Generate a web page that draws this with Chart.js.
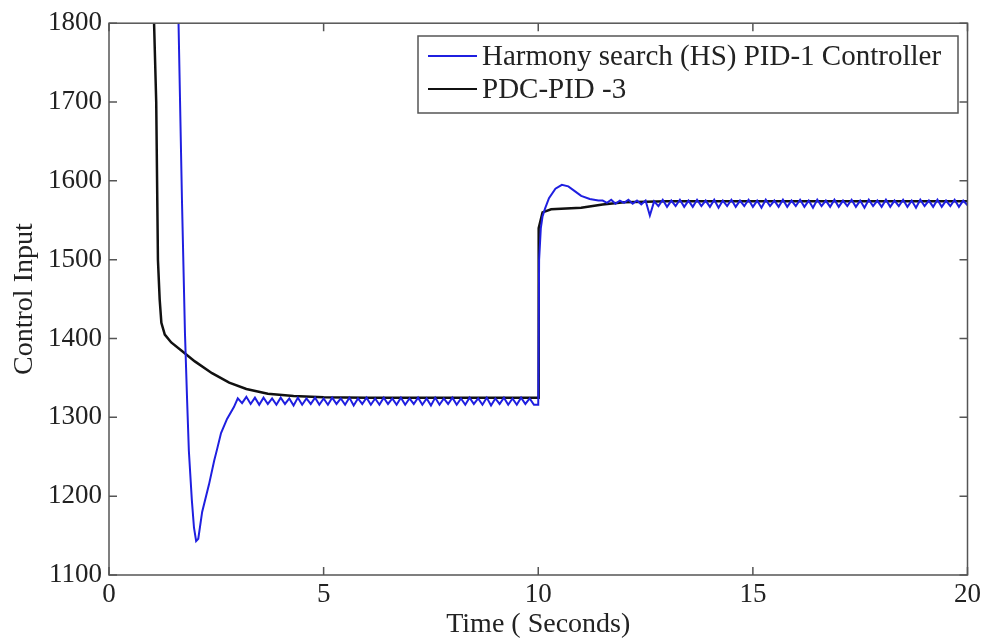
<!DOCTYPE html>
<html>
<head>
<meta charset="utf-8">
<script src="https://cdn.jsdelivr.net/npm/chart.js@4/dist/chart.umd.min.js"></script>
<style>
  html, body { margin: 0; padding: 0; background: #fff; }
</style>
</head>
<body>
<canvas id="control-chart" width="985" height="641"></canvas>
<script>
// Harmony search (HS) PID-1 : transient part
const hsTime = [0, 1.5, 1.62, 1.7, 1.77, 1.82, 1.86, 1.93, 1.98, 2.03, 2.08, 2.17, 2.33, 2.45, 2.52, 2.61, 2.75, 2.91];
const hsValue = [2800, 2050, 1800, 1575, 1406, 1321, 1258, 1195, 1160, 1143, 1146, 1180, 1215, 1245, 1260, 1280, 1298, 1313];

// ripple between 3.0 s and 10.0 s, one sample every 0.1 s
const hsRippleLowStart = 3.0;
const hsRippleLow = [
  1324, 1318, 1326, 1317, 1325, 1316, 1325, 1317, 1324, 1316,
  1325, 1317, 1324, 1315, 1325, 1316, 1324, 1317, 1325, 1316,
  1324, 1316, 1325, 1317, 1324, 1316, 1325, 1315, 1324, 1317,
  1325, 1316, 1324, 1316, 1325, 1317, 1324, 1316, 1325, 1316,
  1324, 1317, 1325, 1316, 1324, 1315, 1325, 1316, 1324, 1317,
  1325, 1316, 1324, 1316, 1325, 1317, 1324, 1316, 1325, 1315,
  1324, 1317, 1325, 1316, 1324, 1316, 1325, 1317, 1324, 1316, 1316
];

// step at 10 s
const hsStepTime = [10.02, 10.06, 10.1, 10.16, 10.25, 10.4, 10.55, 10.7, 10.85, 11.0, 11.2, 11.4];
const hsStepValue = [1500, 1540, 1555, 1565, 1578, 1590, 1595, 1593, 1587, 1581, 1577, 1575];

// ripple between 11.5 s and 20.0 s
const hsRippleHighStart = 11.5;
const hsRippleHigh = [
  1575, 1572, 1576, 1571, 1575, 1572, 1576, 1571, 1575, 1570,
  1575, 1556, 1574, 1568, 1576, 1567, 1575, 1568, 1576, 1567,
  1575, 1567, 1576, 1568, 1575, 1567, 1576, 1566, 1575, 1568,
  1576, 1567, 1575, 1568, 1576, 1567, 1575, 1566, 1576, 1568,
  1575, 1567, 1576, 1567, 1575, 1568, 1576, 1567, 1575, 1566,
  1576, 1568, 1575, 1567, 1576, 1567, 1575, 1568, 1576, 1567,
  1575, 1566, 1576, 1568, 1575, 1567, 1576, 1567, 1575, 1568,
  1576, 1567, 1575, 1566, 1576, 1568, 1575, 1567, 1576, 1567,
  1575, 1568, 1576, 1567, 1575, 1569
];
const rippleStep = 0.1;

// PDC-PID -3
const pdcTime = [0, 0.9, 1.05, 1.1, 1.14, 1.18, 1.22, 1.3, 1.45, 1.75, 2.0, 2.4, 2.8, 3.2, 3.7, 4.3, 5.0, 6.0, 10.0, 10.01, 10.1, 10.3, 11.0, 11.5, 12.0, 13.0, 20.0];
const pdcValue = [2900, 2000, 1800, 1700, 1500, 1450, 1420, 1405, 1395, 1382, 1371, 1356, 1344, 1336, 1330, 1327, 1325.5, 1325, 1325, 1540, 1560, 1564, 1566, 1570, 1573, 1574, 1574];

const xTicks = [0, 5, 10, 15, 20];
const yTicks = [1100, 1200, 1300, 1400, 1500, 1600, 1700, 1800];

const seriesLabels = ["Harmony search (HS) PID-1 Controller", "PDC-PID -3"];

function toPoints(times, values) {
  return values.map((v, i) => ({ x: times[i], y: v }));
}
function rippleToPoints(start, values) {
  return values.map((v, i) => ({ x: +(start + i * rippleStep).toFixed(2), y: v }));
}

const hsPoints = toPoints(hsTime, hsValue)
  .concat(rippleToPoints(hsRippleLowStart, hsRippleLow))
  .concat(toPoints(hsStepTime, hsStepValue))
  .concat(rippleToPoints(hsRippleHighStart, hsRippleHigh));
const pdcPoints = toPoints(pdcTime, pdcValue);

const serif = "'Liberation Serif', 'Times New Roman', serif";
const axisColor = "#555";

// box around the axes with inward ticks, Matlab style
const axesBox = {
  id: "axesBox",
  afterDatasetsDraw(chart) {
    const { ctx, chartArea: a, scales } = chart;
    const len = 8;
    ctx.save();
    ctx.strokeStyle = axisColor;
    ctx.lineWidth = 1.5;
    ctx.strokeRect(a.left, a.top, a.right - a.left, a.bottom - a.top);
    ctx.beginPath();
    xTicks.forEach((t) => {
      const px = scales.x.getPixelForValue(t);
      ctx.moveTo(px, a.bottom); ctx.lineTo(px, a.bottom - len);
      ctx.moveTo(px, a.top); ctx.lineTo(px, a.top + len);
    });
    yTicks.forEach((t) => {
      const py = scales.y.getPixelForValue(t);
      ctx.moveTo(a.left, py); ctx.lineTo(a.left + len, py);
      ctx.moveTo(a.right, py); ctx.lineTo(a.right - len, py);
    });
    ctx.stroke();
    ctx.restore();
  },
};

// legend box in the top right corner of the axes
const boxLegend = {
  id: "boxLegend",
  afterDraw(chart) {
    const { ctx } = chart;
    const left = 418, top = 36, width = 540, height = 77;
    ctx.save();
    ctx.fillStyle = "#fff";
    ctx.fillRect(left, top, width, height);
    ctx.strokeStyle = axisColor;
    ctx.lineWidth = 1.5;
    ctx.strokeRect(left, top, width, height);
    ctx.font = "29px " + serif;
    ctx.textBaseline = "middle";
    chart.data.datasets.forEach((ds, i) => {
      const y = top + 20 + i * 33;
      ctx.strokeStyle = ds.borderColor;
      ctx.lineWidth = 2;
      ctx.beginPath();
      ctx.moveTo(left + 10, y);
      ctx.lineTo(left + 59, y);
      ctx.stroke();
      ctx.fillStyle = "#222";
      ctx.fillText(ds.label, left + 64, y + 1);
    });
    ctx.restore();
  },
};

const controlChart = document.getElementById("control-chart");
const controlChartInstance = new Chart(controlChart, {
  type: "line",
  data: {
    datasets: [
      {
        label: seriesLabels[0],
        data: hsPoints,
        borderColor: "#1f1fe0",
        borderWidth: 2,
        pointRadius: 0,
        tension: 0,
      },
      {
        label: seriesLabels[1],
        data: pdcPoints,
        borderColor: "#111111",
        borderWidth: 2.5,
        pointRadius: 0,
        tension: 0,
      },
    ],
  },
  options: {
    responsive: false,
    animation: false,
    devicePixelRatio: 1,
    layout: { padding: { top: 22, right: 16, left: 0, bottom: 0 } },
    plugins: {
      legend: { display: false },
      tooltip: { enabled: false },
    },
    scales: {
      x: {
        type: "linear",
        min: 0,
        max: 20,
        afterBuildTicks: (scale) => { scale.ticks = xTicks.map((v) => ({ value: v })); },
        afterFit: (scale) => { scale.height = 66; },
        grid: { display: false, drawTicks: false },
        border: { display: false },
        ticks: { color: "#222", padding: 4, maxRotation: 0, font: { family: serif, size: 27 }, callback: (v) => String(v) },
        title: { display: true, text: "Time ( Seconds)", color: "#222", padding: 0, font: { family: serif, size: 28 } },
      },
      y: {
        min: 1100,
        max: 1800,
        afterBuildTicks: (scale) => { scale.ticks = yTicks.map((v) => ({ value: v })); },
        afterFit: (scale) => { scale.width = 109; },
        grid: { display: false, drawTicks: false },
        border: { display: false },
        ticks: { color: "#222", padding: 7, font: { family: serif, size: 27 }, callback: (v) => String(v) },
        title: { display: true, text: "Control Input", color: "#222", padding: { top: 8 }, font: { family: serif, size: 28 } },
      },
    },
  },
  plugins: [axesBox, boxLegend],
});
</script>
</body>
</html>
